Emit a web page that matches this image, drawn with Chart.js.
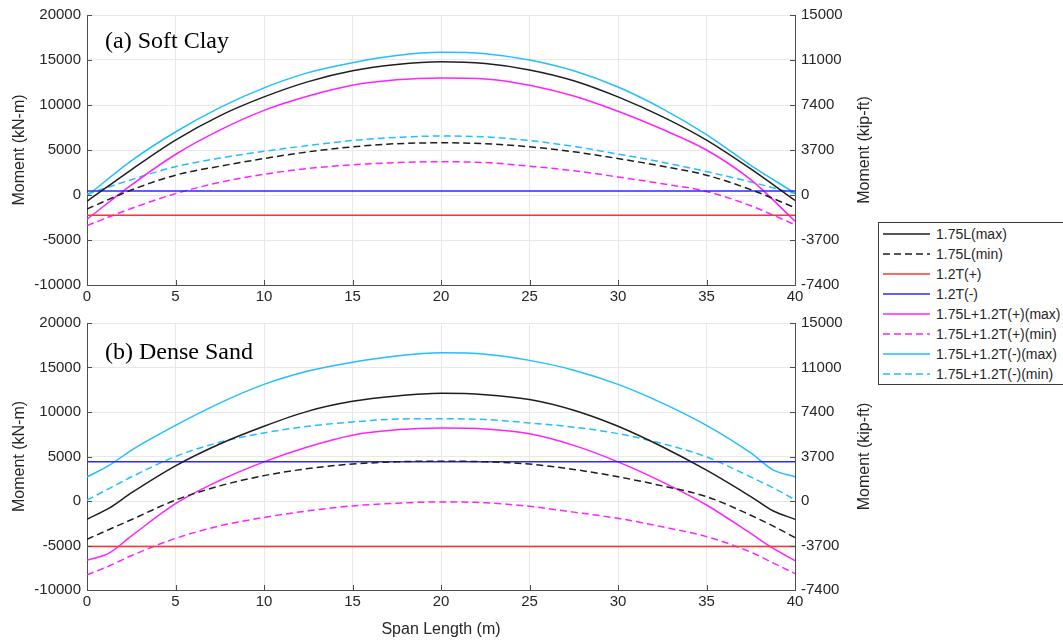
<!DOCTYPE html>
<html>
<head>
<meta charset="utf-8">
<script src="https://cdn.jsdelivr.net/npm/chart.js@4.4.1/dist/chart.umd.min.js"></script>
<style>
  body { margin:0; background:#fff; width:1063px; height:640px; overflow:hidden; position:relative; font-family:'Liberation Sans', Arial, sans-serif; }
  .plot { position:absolute; left:0; }
  #topWrap { top:0; }
  #botWrap { top:308px; }
  #legend { position:absolute; left:878px; top:222px; width:195px; height:163px; border:1px solid #3a3a3a; background:#fff; box-sizing:border-box; padding-top:1px; }
  .row { height:20px; display:flex; align-items:center; font-size:14px; color:#262626; white-space:nowrap; }
  .row svg { margin-left:4px; margin-right:6px; }
</style>
</head>
<body>
<div class="plot" id="topWrap"><canvas id="clayChart" width="880" height="307"></canvas></div>
<div class="plot" id="botWrap"><canvas id="sandChart" width="880" height="332"></canvas></div>
<div id="legend"></div>
<script>
// span positions (m)
const spanClay = [0, 2.5, 5, 7.5, 10, 12.5, 15, 17.5, 20, 22.5, 25, 27.5, 30, 32.5, 35, 37.5, 40];
const spanSand = [0, 1.25, 2.5, 5, 7.5, 10, 12.5, 15, 17.5, 20, 22.5, 25, 27.5, 30, 32.5, 35, 37.5, 38.75, 40];
const spanEnds = [0, 40];

// (a) soft clay, moments in kN-m
const clayLMax   = [-700, 2800, 6100, 8800, 10900, 12600, 13800, 14500, 14800, 14600, 13900, 12700, 10900, 8700, 6100, 2900, -600];
const clayLMin   = [-1550, 550, 2200, 3200, 4050, 4800, 5350, 5700, 5800, 5700, 5350, 4800, 4050, 3200, 2200, 600, -1400];
const clayTPos   = [-2250, -2250];
const clayTNeg   = [450, 450];
const clayPosMax = [-2700, 1100, 4500, 7200, 9400, 11000, 12200, 12800, 13000, 12900, 12200, 11000, 9300, 7300, 5000, 1700, -2900];
const clayPosMin = [-3400, -1500, 150, 1400, 2300, 2950, 3350, 3600, 3700, 3600, 3200, 2700, 2000, 1250, 400, -1200, -3300];
const clayNegMax = [-100, 3800, 7000, 9700, 11900, 13600, 14700, 15500, 15850, 15700, 15000, 13800, 12000, 9600, 6700, 3300, 200];
const clayNegMin = [100, 1700, 3150, 4100, 4850, 5500, 6050, 6400, 6550, 6450, 6050, 5400, 4550, 3650, 2600, 1450, 150];

// (b) dense sand, moments in kN-m
const sandLMax   = [-2050, -800, 900, 3950, 6400, 8400, 10100, 11200, 11800, 12100, 11950, 11400, 10200, 8400, 6100, 3470, 500, -1100, -2050];
const sandLMin   = [-4300, -3200, -2100, 100, 1700, 2850, 3650, 4150, 4400, 4480, 4400, 4150, 3550, 2720, 1700, 490, -1600, -2800, -4100];
const sandTPos   = [-5100, -5100];
const sandTNeg   = [4400, 4400];
const sandPosMax = [-6650, -5850, -3950, -300, 2300, 4400, 6100, 7400, 8000, 8200, 8100, 7550, 6250, 4400, 2150, -450, -3650, -5300, -6700];
const sandPosMin = [-8300, -7300, -6150, -4200, -2800, -1850, -1100, -550, -250, -100, -200, -600, -1250, -1950, -2900, -4000, -5750, -6950, -8150];
const sandNegMax = [2700, 4000, 5700, 8500, 11000, 13100, 14600, 15600, 16300, 16650, 16500, 15800, 14700, 13100, 11000, 8500, 5400, 3500, 2720];
const sandNegMin = [100, 1400, 2700, 5000, 6600, 7650, 8400, 8880, 9200, 9250, 9150, 8770, 8300, 7570, 6450, 4960, 2700, 1500, 150];

// axis ticks
const spanTicks = [0, 5, 10, 15, 20, 25, 30, 35, 40];
const knTicks = [-10000, -5000, 0, 5000, 10000, 15000, 20000];
const kipLabels = ['-7400', '-3700', '0', '3700', '7400', '11000', '15000'];

const seriesNames = ['1.75L(max)', '1.75L(min)', '1.2T(+)', '1.2T(-)',
  '1.75L+1.2T(+)(max)', '1.75L+1.2T(+)(min)', '1.75L+1.2T(-)(max)', '1.75L+1.2T(-)(min)'];
const lineColors = ['#1e1e1e', '#1e1e1e', '#ff3333', '#2a2aff', '#ff22ff', '#ff22ff', '#22bfff', '#22bfff'];
const lineDashed = [false, true, false, false, false, true, false, true];

const pts = (xs, ys) => xs.map((x, i) => ({ x: x, y: ys[i] }));

function buildSets(xs, L, Lmin, Tp, Tn, Pmax, Pmin, Nmax, Nmin) {
  const series = [pts(xs, L), pts(xs, Lmin), pts(spanEnds, Tp), pts(spanEnds, Tn),
    pts(xs, Pmax), pts(xs, Pmin), pts(xs, Nmax), pts(xs, Nmin)];
  return series.map((d, i) => ({
    label: seriesNames[i],
    data: d,
    borderColor: lineColors[i],
    borderWidth: 1.5,
    borderDash: lineDashed[i] ? [7, 4] : [],
    pointRadius: 0,
    cubicInterpolationMode: 'monotone',
    fill: false
  }));
}

const FONT = "'Liberation Sans', Arial, sans-serif";
const TXT = '#262626';

// inward tick marks, panel name and the kip-ft title
const panelDecor = {
  id: 'panelDecor',
  afterDraw(chart, args, opts) {
    const { ctx, chartArea: a, scales } = chart;
    ctx.save();
    ctx.strokeStyle = '#4d4d4d';
    ctx.lineWidth = 1;
    ctx.beginPath();
    scales.x.ticks.forEach(t => {
      const px = Math.round(scales.x.getPixelForValue(t.value)) + 0.5;
      ctx.moveTo(px, a.bottom); ctx.lineTo(px, a.bottom - 5);
    });
    scales.y.ticks.forEach(t => {
      const py = Math.round(scales.y.getPixelForValue(t.value)) + 0.5;
      ctx.moveTo(a.left, py); ctx.lineTo(a.left + 5, py);
      ctx.moveTo(a.right, py); ctx.lineTo(a.right - 5, py);
    });
    ctx.stroke();

    ctx.font = "24px 'Liberation Serif', 'Times New Roman', serif";
    ctx.fillStyle = '#000';
    ctx.textBaseline = 'middle';
    ctx.textAlign = 'left';
    ctx.fillText(opts.label, a.left + 18, a.top + opts.labelY);

    ctx.font = '16px ' + FONT;
    ctx.fillStyle = TXT;
    ctx.translate(865, (a.top + a.bottom) / 2);
    ctx.rotate(-Math.PI / 2);
    ctx.textAlign = 'center';
    ctx.fillText('Moment (kip-ft)', 0, 0);
    ctx.restore();
  }
};

function makeConfig(datasets, panelLabel, labelY, xTitle, xHeight) {
  return {
    type: 'line',
    data: { datasets: datasets },
    plugins: [panelDecor],
    options: {
      responsive: false,
      animation: false,
      layout: { padding: { top: 15, left: 0, right: 0, bottom: 0 } },
      plugins: {
        legend: { display: false },
        tooltip: { enabled: false },
        panelDecor: { label: panelLabel, labelY: labelY }
      },
      scales: {
        x: {
          type: 'linear', min: 0, max: 40,
          afterBuildTicks: s => { s.ticks = spanTicks.map(v => ({ value: v })); },
          afterFit: s => { s.height = xHeight; },
          ticks: { color: TXT, font: { family: FONT, size: 15 }, padding: 3, maxRotation: 0, callback: v => String(v) },
          grid: { color: '#e8e8e8', drawTicks: false },
          border: { color: '#4d4d4d' },
          title: { display: !!xTitle, text: xTitle, color: TXT, font: { family: FONT, size: 16 }, padding: { top: 0, bottom: 1 } }
        },
        y: {
          min: -10000, max: 20000,
          afterBuildTicks: s => { s.ticks = knTicks.map(v => ({ value: v })); },
          afterFit: s => { s.width = 87; },
          ticks: { color: TXT, font: { family: FONT, size: 15 }, padding: 6, callback: v => String(v) },
          grid: { color: '#e8e8e8', drawTicks: false },
          border: { color: '#4d4d4d' },
          title: { display: true, text: 'Moment (kN-m)', color: TXT, font: { family: FONT, size: 16 }, padding: { top: 10, bottom: 0 } }
        },
        y1: {
          position: 'right', min: -10000, max: 20000,
          afterBuildTicks: s => { s.ticks = knTicks.map(v => ({ value: v })); },
          afterFit: s => { s.width = 880 - 795; },
          ticks: { color: TXT, font: { family: FONT, size: 15 }, padding: 6, callback: (v, i) => kipLabels[i] },
          grid: { display: false, drawTicks: false },
          border: { color: '#4d4d4d' }
        }
      }
    }
  };
}

new Chart(document.getElementById('clayChart'),
  makeConfig(buildSets(spanClay, clayLMax, clayLMin, clayTPos, clayTNeg, clayPosMax, clayPosMin, clayNegMax, clayNegMin),
    '(a) Soft Clay', 27, '', 22));

new Chart(document.getElementById('sandChart'),
  makeConfig(buildSets(spanSand, sandLMax, sandLMin, sandTPos, sandTNeg, sandPosMax, sandPosMin, sandNegMax, sandNegMin),
    '(b) Dense Sand', 30, 'Span Length (m)', 50));

// shared legend
const legend = document.getElementById('legend');
seriesNames.forEach((name, i) => {
  const row = document.createElement('div');
  row.className = 'row';
  const dash = lineDashed[i] ? ' stroke-dasharray="7 4"' : '';
  row.innerHTML = '<svg width="47" height="4"><line x1="0" y1="2" x2="47" y2="2" stroke="' + lineColors[i] +
    '" stroke-width="1.5"' + dash + '/></svg><span>' + name + '</span>';
  legend.appendChild(row);
});
</script>
</body>
</html>
